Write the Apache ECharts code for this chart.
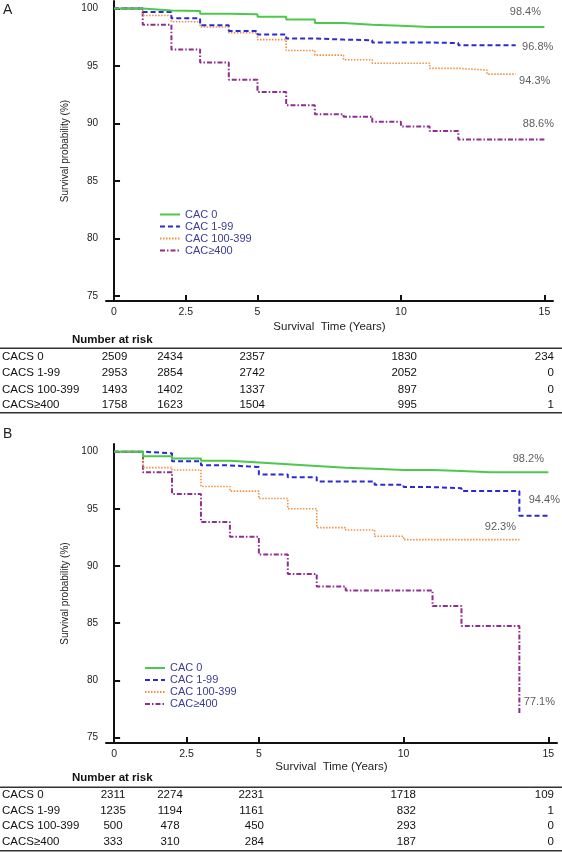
<!DOCTYPE html>
<html><head><meta charset="utf-8">
<script src="https://cdn.jsdelivr.net/npm/echarts@6/dist/echarts.min.js"></script>
<style>html,body{margin:0;padding:0;background:#fff}#c{width:562px;height:852px}</style>
</head><body><div id="c"></div>
<script>
// ---------- data ----------
const years = [0,1,2,3,4,5,6,7,8,9,10,11,12,13,14,15];
const seriesNames = ['CAC 0','CAC 1-99','CAC 100-399','CAC\u2265400'];
const xTicks = [0,2.5,5,10,15];
const yTicks = [75,80,85,90,95,100];

// Panel A survival (%) at each year (step after event)
const aCac0    = [100,99.83,99.8,99.55,99.5,99.3,99.05,98.75,98.6,98.5,98.4,98.4,98.4,98.4,98.4,98.4];
const aCac1    = [100,99.7,99.15,98.55,98.05,97.75,97.4,97.3,97.25,97.05,97.05,97.0,96.8,96.8,96.8];
const aCac100  = [100,99.4,98.85,98.4,97.9,97.3,96.35,95.95,95.55,95.25,95.25,94.8,94.65,94.3,94.3];
const aCac400  = [100,98.6,96.45,95.3,93.8,92.75,91.6,90.8,90.6,90.15,89.75,89.35,88.6,88.6,88.6,88.6];
// Panel B
const bCac0    = [100,99.6,99.4,99.2,99.05,98.9,98.75,98.6,98.5,98.4,98.4,98.3,98.2,98.2,98.2,98.2];
const bCac1    = [100,99.85,99.15,98.8,98.65,98.0,97.75,97.4,97.4,97.1,96.9,96.8,96.55,96.55,94.4,94.4];
const bCac100  = [100,98.6,98.4,96.95,96.55,95.9,95.0,93.35,93.15,92.6,92.3,92.3,92.3,92.3,92.3];
const bCac400  = [100,98.2,96.3,93.85,92.55,91.0,89.3,88.2,87.85,87.85,87.85,86.5,84.75,84.75,77.1];

// Number at risk tables
const riskRowLabels = ['CACS 0','CACS 1-99','CACS 100-399','CACS\u2265400'];
const riskA = [
  [2509,2434,2357,1830,234],
  [2953,2854,2742,2052,0],
  [1493,1402,1337,897,0],
  [1758,1623,1504,995,1]
];
const riskB = [
  [2311,2274,2231,1718,109],
  [1235,1194,1161,832,1],
  [500,478,450,293,0],
  [333,310,284,187,0]
];

// ---------- styles ----------
const FONT = "'Liberation Sans', Arial, sans-serif";
const styles = [
  {color:'#4cc94c', type:'solid', width:2},
  {color:'#2b2bd6', type:[5,3], width:2},
  {color:'#f2913d', type:[1.5,1.5], width:1.6},
  {color:'#8e2f8e', type:[5,2,1.5,2], width:2}
];
const endOffsetsA = [[-19,-15],[22,1.5],[19,7],[-6,-15.5]];
const endOffsetsB = [[-20,-13],[-4,-16],[-19,-13],[20,-11]];

const grids = [
  {left:106, top:1, width:447, height:300},
  {left:106, top:444, width:451, height:299}
];

function mkX(gi, nameGap){
  return {type:'value', gridIndex:gi, min:-0.28, max:15.3,
    name:'Survival  Time (Years)', nameLocation:'middle', nameGap:nameGap,
    nameTextStyle:{fontFamily:FONT, fontSize:11.5, color:'#222'},
    axisLine:{show:true, lineStyle:{color:'#111', width:2}},
    axisTick:{show:true, inside:true, length:6, lineStyle:{color:'#111', width:2}, customValues:xTicks},
    axisLabel:{fontFamily:FONT, fontSize:10.5, color:'#222', margin:6, customValues:xTicks,
      formatter:v=>String(v)},
    splitLine:{show:false}};
}
function mkY(gi, min, max){
  return {type:'value', gridIndex:gi, min:min, max:max,
    name:'Survival probability (%)', nameLocation:'middle', nameGap:34, nameRotate:90,
    nameTextStyle:{fontFamily:FONT, fontSize:10, color:'#222'},
    axisLine:{show:true, lineStyle:{color:'#111', width:2}},
    axisTick:{show:true, inside:true, length:6, lineStyle:{color:'#111', width:2}, customValues:yTicks},
    axisLabel:{fontFamily:FONT, fontSize:10, color:'#222', margin:8, customValues:yTicks},
    splitLine:{show:false}};
}

const series = [];
function addPanel(arrs, gi, offsets){
  arrs.forEach((arr, i)=>{
    const pts = arr.map((v, k)=>[years[k], v]);
    series.push({name:seriesNames[i], type:'line', xAxisIndex:gi, yAxisIndex:gi, step:'end',
      data:pts, symbol:'none', lineStyle:styles[i], itemStyle:{color:styles[i].color}, z:10-i});
    const last = pts[pts.length-1];
    series.push({name:'end'+gi+'_'+i, type:'scatter', xAxisIndex:gi, yAxisIndex:gi,
      data:[last], symbolSize:0, silent:true, clip:false,
      label:{show:true, position:'inside', offset:offsets[i], fontFamily:FONT, fontSize:11, color:'#333',
        formatter:p=>p.value[1].toFixed(1)+'%'}});
  });
}
addPanel([aCac0,aCac1,aCac100,aCac400], 0, endOffsetsA);
addPanel([bCac0,bCac1,bCac100,bCac400], 1, endOffsetsB);

// Tables via graphic
const graphic = [];
function txt(x, y, s, align, extra){
  graphic.push({type:'text', x:x, y:y, silent:true,
    style:Object.assign({text:String(s), fontFamily:FONT, fontSize:11.5, fill:'#111',
      textAlign:align, textVerticalAlign:'middle'}, extra||{})});
}
function line(y){
  graphic.push({type:'line', silent:true, shape:{x1:0, y1:y, x2:562, y2:y},
    style:{stroke:'#333', lineWidth:1.5}});
}
function table(data, titleY, topY, rowYs, bottomY, cols){
  txt(72, titleY, 'Number at risk', 'left', {fontWeight:'bold'});
  line(topY); line(bottomY);
  data.forEach((row, r)=>{
    txt(2, rowYs[r], riskRowLabels[r], 'left');
    row.forEach((v, c)=>{ txt(cols[c][0], rowYs[r], v, cols[c][1]); });
  });
}
table(riskA, 340, 348.3, [357,373,389.5,405], 412.7,
  [[114.5,'center'],[170,'center'],[265,'right'],[417,'right'],[554,'right']]);
table(riskB, 777.7, 787.3, [795,810.5,826,841.7], 850.7,
  [[113,'center'],[170,'center'],[264,'right'],[416,'right'],[554,'right']]);
// panel letters
txt(3, 10, 'A', 'left', {fontSize:14, fill:'#222'});
txt(3, 434, 'B', 'left', {fontSize:14, fill:'#222'});

const legendBase = {data:seriesNames, orient:'vertical', itemWidth:20, itemHeight:10, itemGap:1,
  selectedMode:false, itemStyle:{opacity:0},
  textStyle:{fontFamily:FONT, fontSize:11, color:'#3b3b96', lineHeight:10}};

const chart = echarts.init(document.getElementById('c'), null, {renderer:'canvas'});
chart.setOption({
  animation:false,
  backgroundColor:'#fff',
  grid:grids,
  xAxis:[mkX(0,20), mkX(1,9)],
  yAxis:[mkY(0,74.56,100.66), mkY(1,74.51,100.67)],
  legend:[Object.assign({left:154, top:204}, legendBase), Object.assign({left:139, top:657.5}, legendBase)],
  series:series,
  graphic:graphic
});
</script></body></html>
